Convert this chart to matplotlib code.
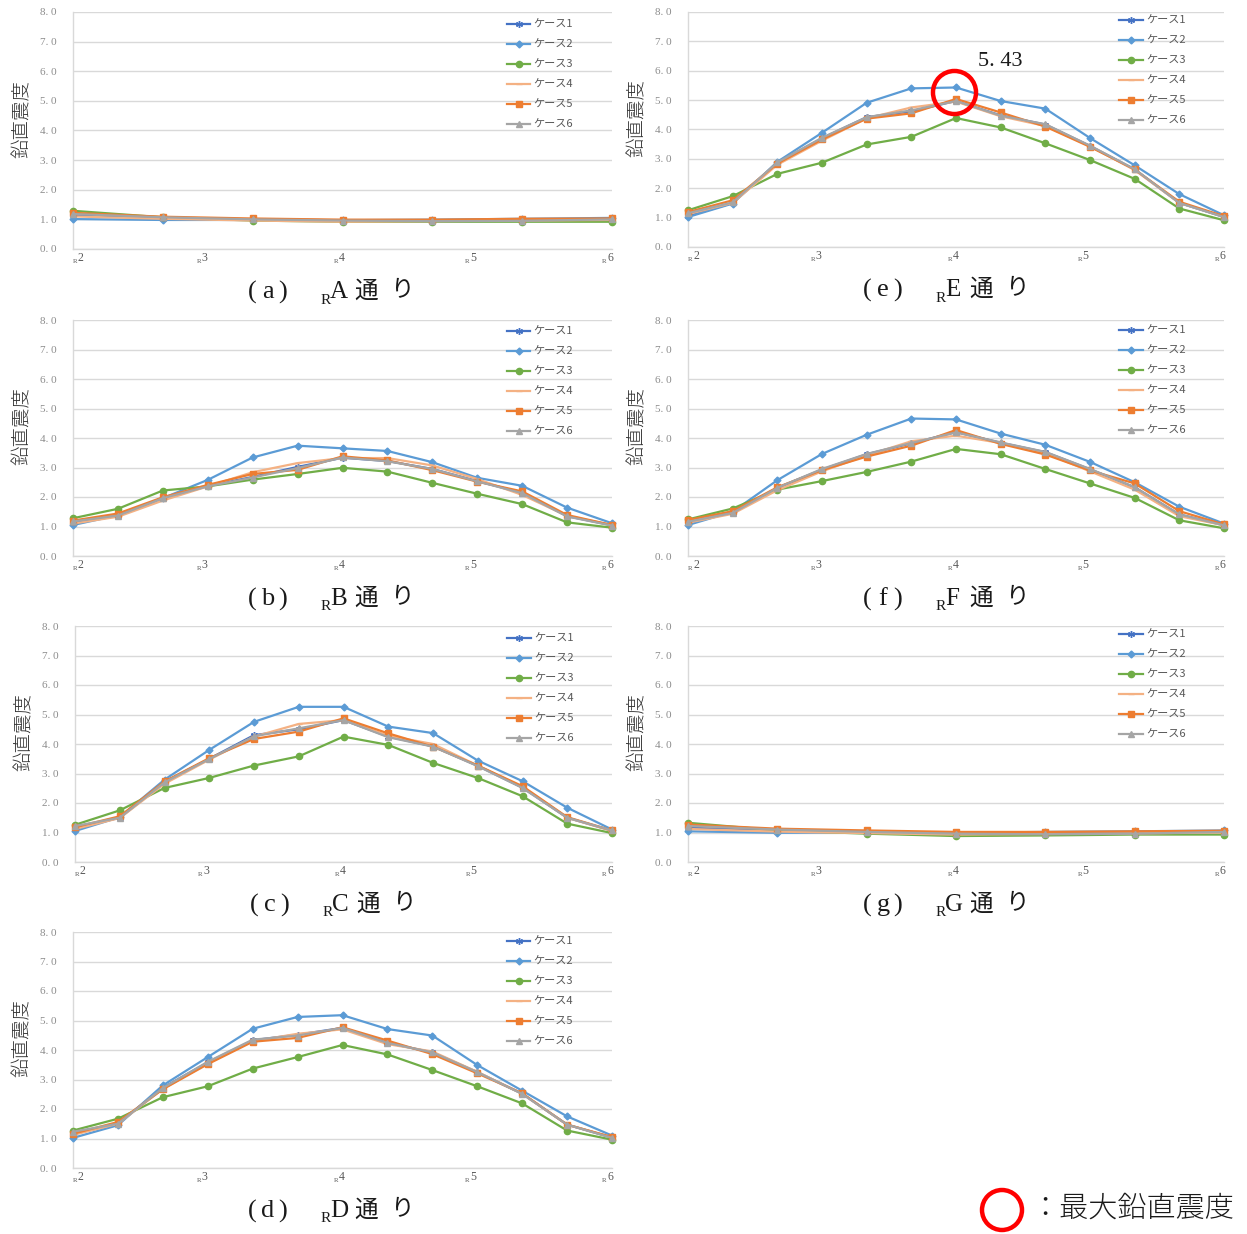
import matplotlib
matplotlib.use('Agg')
import matplotlib.pyplot as plt
import matplotlib.transforms as mtransforms
from matplotlib.patches import Ellipse

W, H = 1247, 1234
JP = ['Liberation Serif', 'Noto Sans CJK JP']
INK = '#1a1a1a'

case_names = ['ケース1', 'ケース2', 'ケース3', 'ケース4', 'ケース5', 'ケース6']
case_colors = ['#4472C4', '#5B9BD5', '#70AD47', '#F4B183', '#ED7D31', '#A5A5A5']
case_markers = [(6, 2, 0), 'D', 'o', '_', 's', '^']
case_msize = [5, 3.5, 4.5, 4, 4.5, 5]

# axis labels along each street (R2..R6)
r_names = ['2', '3', '4', '5', '6']
r_frac = [0.0, 0.229, 0.484, 0.727, 0.982]

# vertical seismic intensity, rows = case 1..6
rA = [[1.15, 1.06, 1.00, 0.97, 0.96, 0.97, 1.00],
      [1.01, 0.98, 0.98, 0.97, 0.99, 1.02, 1.05],
      [1.29, 1.07, 0.96, 0.92, 0.92, 0.92, 0.92],
      [1.10, 1.02, 0.96, 0.92, 0.94, 0.96, 0.98],
      [1.22, 1.09, 1.03, 0.99, 0.99, 1.02, 1.03],
      [1.18, 1.07, 1.00, 0.96, 0.94, 0.95, 1.00]]

rB = [[1.14, 1.37, 1.97, 2.37, 2.68, 3.02, 3.33, 3.22, 2.95, 2.54, 2.14, 1.35, 1.04],
      [1.05, 1.38, 1.96, 2.58, 3.34, 3.74, 3.65, 3.56, 3.18, 2.65, 2.38, 1.64, 1.11],
      [1.28, 1.60, 2.22, 2.36, 2.59, 2.78, 2.99, 2.86, 2.48, 2.11, 1.76, 1.14, 0.96],
      [1.10, 1.33, 1.88, 2.36, 2.84, 3.15, 3.32, 3.32, 3.07, 2.61, 2.07, 1.36, 1.05],
      [1.20, 1.44, 1.99, 2.41, 2.78, 2.92, 3.38, 3.24, 2.91, 2.52, 2.19, 1.39, 1.05],
      [1.17, 1.37, 1.96, 2.36, 2.66, 2.98, 3.34, 3.21, 2.95, 2.53, 2.13, 1.34, 1.03]]

rC = [[1.15, 1.50, 2.71, 3.50, 4.30, 4.50, 4.81, 4.25, 3.92, 3.26, 2.52, 1.50, 1.06],
      [1.05, 1.52, 2.79, 3.80, 4.75, 5.26, 5.26, 4.59, 4.37, 3.44, 2.74, 1.84, 1.10],
      [1.26, 1.75, 2.51, 2.85, 3.27, 3.58, 4.25, 3.97, 3.36, 2.85, 2.23, 1.30, 0.98],
      [1.12, 1.49, 2.65, 3.47, 4.25, 4.68, 4.81, 4.28, 4.00, 3.27, 2.54, 1.50, 1.05],
      [1.18, 1.55, 2.73, 3.52, 4.17, 4.42, 4.87, 4.36, 3.91, 3.27, 2.57, 1.52, 1.07],
      [1.22, 1.50, 2.70, 3.49, 4.26, 4.53, 4.81, 4.23, 3.91, 3.25, 2.51, 1.50, 1.07]]

rD = [[1.15, 1.50, 2.72, 3.58, 4.33, 4.52, 4.75, 4.24, 3.92, 3.25, 2.52, 1.47, 1.03],
      [1.02, 1.45, 2.80, 3.76, 4.72, 5.12, 5.18, 4.71, 4.49, 3.49, 2.62, 1.75, 1.10],
      [1.27, 1.67, 2.40, 2.77, 3.37, 3.76, 4.17, 3.85, 3.32, 2.77, 2.19, 1.27, 0.96],
      [1.12, 1.50, 2.68, 3.55, 4.30, 4.55, 4.70, 4.20, 3.95, 3.26, 2.52, 1.47, 1.04],
      [1.16, 1.56, 2.67, 3.52, 4.28, 4.41, 4.77, 4.32, 3.86, 3.21, 2.53, 1.47, 1.05],
      [1.23, 1.50, 2.71, 3.60, 4.35, 4.49, 4.75, 4.24, 3.92, 3.25, 2.51, 1.47, 1.02]]

rE = [[1.05, 1.50, 2.86, 3.70, 4.42, 4.62, 4.97, 4.48, 4.17, 3.44, 2.64, 1.50, 1.02],
      [1.02, 1.48, 2.90, 3.89, 4.91, 5.40, 5.43, 4.97, 4.71, 3.71, 2.78, 1.80, 1.08],
      [1.25, 1.73, 2.49, 2.87, 3.49, 3.75, 4.39, 4.07, 3.53, 2.96, 2.32, 1.31, 0.91],
      [1.12, 1.50, 2.80, 3.62, 4.38, 4.75, 4.95, 4.45, 4.12, 3.43, 2.62, 1.50, 1.03],
      [1.19, 1.59, 2.84, 3.66, 4.37, 4.55, 5.04, 4.58, 4.10, 3.41, 2.64, 1.54, 1.05],
      [1.15, 1.52, 2.88, 3.72, 4.42, 4.65, 4.97, 4.47, 4.18, 3.45, 2.65, 1.50, 1.02]]

rF = [[1.14, 1.46, 2.31, 2.93, 3.45, 3.82, 4.20, 3.84, 3.52, 2.94, 2.33, 1.41, 1.04],
      [1.05, 1.50, 2.57, 3.46, 4.11, 4.66, 4.63, 4.15, 3.77, 3.19, 2.50, 1.67, 1.10],
      [1.24, 1.61, 2.25, 2.54, 2.85, 3.20, 3.63, 3.45, 2.95, 2.46, 1.97, 1.21, 0.94],
      [1.13, 1.43, 2.23, 2.87, 3.41, 3.89, 4.08, 3.83, 3.49, 2.87, 2.25, 1.35, 1.04],
      [1.22, 1.52, 2.33, 2.91, 3.37, 3.74, 4.27, 3.80, 3.44, 2.90, 2.46, 1.52, 1.07],
      [1.16, 1.46, 2.31, 2.95, 3.46, 3.83, 4.19, 3.85, 3.53, 2.95, 2.33, 1.41, 1.04]]

rG = [[1.16, 1.08, 1.01, 0.97, 0.97, 0.99, 1.02],
      [1.04, 0.99, 1.00, 0.99, 1.02, 1.04, 1.07],
      [1.33, 1.07, 0.96, 0.88, 0.90, 0.93, 0.93],
      [1.12, 1.03, 0.98, 0.93, 0.95, 0.97, 1.00],
      [1.27, 1.13, 1.07, 1.02, 1.02, 1.04, 1.06],
      [1.22, 1.10, 1.02, 0.96, 0.94, 0.96, 1.02]]

fig = plt.figure(figsize=(W / 100, H / 100), dpi=100)
fig.patch.set_facecolor('white')


def px_axes(l, r, t, b):
    return fig.add_axes([l / W, 1 - b / H, (r - l) / W, (b - t) / H])


def panel(rect, letter, street, rows, leg_off):
    l, r, t, b = rect
    ax = px_axes(l, r, t, b)
    n = len(rows[0])
    xs = list(range(n))
    for vals, name, c, m, ms in zip(rows, case_names, case_colors, case_markers, case_msize):
        ax.plot(xs, vals, color=c, lw=1.6, marker=m, ms=ms, mfc=c, mec=c,
                mew=1.0, label=name, clip_on=False, zorder=3)
    ax.set_xlim(0, n - 1)
    ax.set_ylim(0, 8)
    ax.set_yticks(range(9))
    ax.set_yticklabels([f'{v:.1f}'.replace('.', '. ') for v in range(9)],
                       family='Liberation Serif', fontsize=8, color='#8C8C8C')
    ax.set_xticks([])
    ax.tick_params(axis='y', length=0, pad=12)
    ax.grid(axis='y', color='#D9D9D9', lw=1.0)
    ax.set_axisbelow(True)
    for s in ['top', 'right']:
        ax.spines[s].set_visible(False)
    for s in ['left', 'bottom']:
        ax.spines[s].set_color('#D9D9D9')
        ax.spines[s].set_linewidth(1.0)
    ax.set_ylabel('鉛直震度', family='Noto Sans CJK JP', fontsize=14, weight='light',
                  color='#333333')
    ax.yaxis.set_label_coords(-40 / (r - l), 0.55)

    # R2..R6 labels under the axis
    for f, num in zip(r_frac, r_names):
        tr_r = mtransforms.offset_copy(ax.transAxes, fig=fig, x=0, y=-13, units='dots')
        ax.text(f, 0, 'R', transform=tr_r, fontsize=5, family='Liberation Serif',
                color='#595959', ha='left', va='center')
        tr_n = mtransforms.offset_copy(ax.transAxes, fig=fig, x=5, y=-9, units='dots')
        ax.text(f, 0, num, transform=tr_n, fontsize=8.5, family='Liberation Serif',
                color='#595959', ha='left', va='center')

    leg = ax.legend(loc='upper left', bbox_to_anchor=(0.805, 1 - (leg_off - 7) / (b - t)),
                    frameon=False, prop={'family': 'Noto Sans CJK JP', 'size': 8},
                    handlelength=2.1, handletextpad=0.3, labelspacing=0.9,
                    borderpad=0, borderaxespad=0)
    for txt in leg.get_texts():
        txt.set_color('#595959')

    # caption below the panel
    ty = 1 - (b + 43) / H
    fig.text((l + 175) / W, ty, '(', family=JP, fontsize=19, va='center', ha='left', color=INK)
    fig.text((l + 195) / W, ty, letter, family=JP, fontsize=19, va='center', ha='center', color=INK)
    fig.text((l + 214) / W, ty, ')', family=JP, fontsize=19, va='center', ha='right', color=INK)
    fig.text((l + 248) / W, ty - 8 / H, 'R', family=JP, fontsize=11, va='center', color=INK)
    fig.text((l + 257) / W, ty, street, family=JP, fontsize=18, va='center', color=INK)
    fig.text((l + 281) / W, ty, '通', family=JP, fontsize=17, va='center', color=INK)
    fig.text((l + 318) / W, ty, 'り', family=JP, fontsize=17, va='center', color=INK)
    return ax


panel((73, 612, 12, 249), 'a', 'A', rA, 15)
panel((73, 612, 320, 556), 'b', 'B', rB, 14)
panel((75, 612, 626, 862), 'c', 'C', rC, 15)
panel((73, 612, 932, 1168), 'd', 'D', rD, 12)
axE = panel((688, 1224, 12, 247), 'e', 'E', rE, 11)
panel((688, 1224, 320, 556), 'f', 'F', rF, 13)
panel((688, 1224, 626, 862), 'g', 'G', rG, 11)

# mark the overall maximum (case 2 on street E)
peak = max(rE[1])
ipk = rE[1].index(peak)
tr_c = mtransforms.offset_copy(axE.transData, fig=fig, x=-2, y=-5, units='dots')
axE.plot([ipk], [peak], marker='o', ms=31, mfc='none', mec='#FF0000', mew=3.2,
         transform=tr_c, clip_on=False, zorder=5)
axE.annotate(f'{peak:.2f}'.replace('.', '. '), xy=(ipk, peak), xytext=(32, 19),
             textcoords='offset points', ha='center', va='center',
             family='Liberation Serif', fontsize=16, color=INK)

# key for the red circle
fig.patches.append(Ellipse((1002 / W, 1 - 1210 / H), 40 / W, 40 / H, fill=False,
                           edgecolor='#FF0000', lw=3.2, transform=fig.transFigure))
fig.text(1030 / W, 1 - 1208 / H, '：最大鉛直震度', family='Noto Sans CJK JP',
         fontsize=21, weight='light', va='center', color=INK)

fig.savefig('out.png', dpi=100, facecolor='white')
